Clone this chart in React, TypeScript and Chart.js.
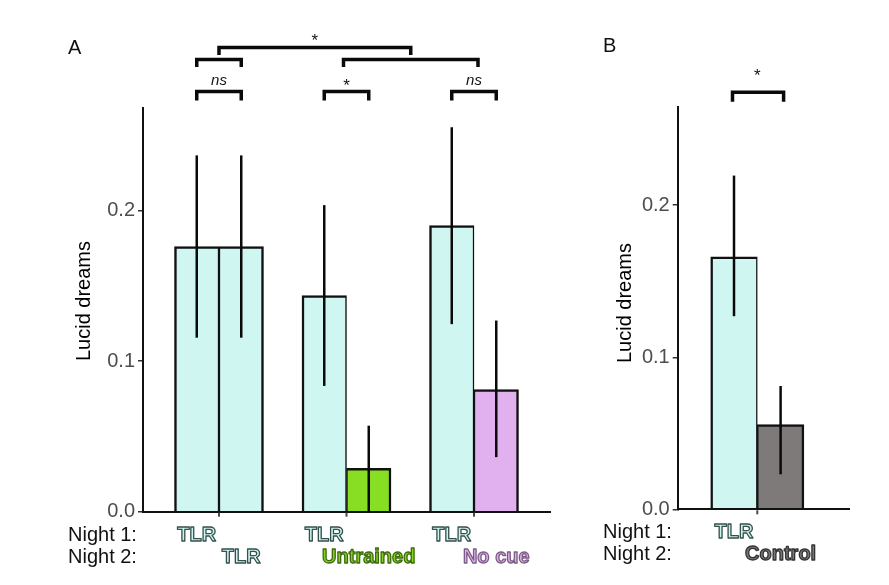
import React, { useEffect, useRef } from "react";
import { Chart, registerables } from "chart.js";

Chart.register(...registerables);

const FONT = '"Liberation Sans", Arial, Helvetica, sans-serif';
Chart.defaults.font.family = FONT;

// ---------- Panel A data ----------
const conditionsA = ["TLR / TLR", "TLR / Untrained", "TLR / No cue"];
const night1LabelsA = ["TLR", "TLR", "TLR"];
const night2LabelsA = ["TLR", "Untrained", "No cue"];
const night1MeanA = [0.176, 0.1435, 0.19];
const night1LowA = [0.1155, 0.0835, 0.1245];
const night1HighA = [0.2365, 0.2035, 0.2552];
const night2MeanA = [0.176, 0.0288, 0.081];
const night2LowA = [0.1155, 0.0, 0.0362];
const night2HighA = [0.2365, 0.0571, 0.1269];
const withinSigA = ["ns", "*", "ns"];
const acrossSigA = "*";

// ---------- Panel B data ----------
const conditionsB = ["TLR / Control"];
const night1LabelsB = ["TLR"];
const night2LabelsB = ["Control"];
const night1MeanB = [0.166];
const night1LowB = [0.127];
const night1HighB = [0.2195];
const night2MeanB = [0.0557];
const night2LowB = [0.023];
const night2HighB = [0.0811];
const withinSigB = ["*"];

const yTickValues = [0, 0.1, 0.2];
const rowLabels = ["Night 1:", "Night 2:"];
const yTitle = "Lucid dreams";

const CYAN = "#d0f6f2";
const night2ColorsA = [CYAN, "#88de22", "#e1b1ef"];
const night2ColorsB = ["#7e7a7a"];
const labelStyles: Record<string, { fill: string; stroke: string }> = {
  TLR: { fill: "#cdf4ef", stroke: "#35504d" },
  Untrained: { fill: "#80d31f", stroke: "#3e6a0c" },
  "No cue": { fill: "#dcaeea", stroke: "#7d5c88" },
  Control: { fill: "#7a7676", stroke: "#333333" },
};

function bracket(ctx: CanvasRenderingContext2D, x1: number, x2: number, y: number, legY: number) {
  ctx.beginPath();
  ctx.moveTo(x1, legY);
  ctx.lineTo(x1, y);
  ctx.lineTo(x2, y);
  ctx.lineTo(x2, legY);
  ctx.stroke();
}

function sigText(ctx: CanvasRenderingContext2D, t: string, x: number, yc: number) {
  ctx.fillStyle = "#111";
  ctx.textAlign = "center";
  ctx.textBaseline = "middle";
  if (t === "*") {
    ctx.font = `17px ${FONT}`;
    ctx.fillText(t, x, yc + 3.8);
  } else {
    ctx.font = `italic 15px ${FONT}`;
    ctx.fillText(t, x, yc - 1.3);
  }
}

function outlined(ctx: CanvasRenderingContext2D, text: string, x: number, y: number) {
  const st = labelStyles[text];
  ctx.font = `bold 20px ${FONT}`;
  ctx.textAlign = "center";
  ctx.textBaseline = "middle";
  ctx.lineJoin = "round";
  ctx.fillStyle = st.fill;
  ctx.fillText(text, x, y);
  ctx.lineWidth = 1.3;
  ctx.strokeStyle = st.stroke;
  ctx.strokeText(text, x, y);
}

type PanelOpts = {
  letter: string;
  letterX: number;
  letterY: number;
  nightX: number;
  titleX: number;
  titleY: number;
  conditions: string[];
  mean1: number[];
  mean2: number[];
  low: number[][];
  high: number[][];
  labels1: string[];
  labels2: string[];
  colors2: string[];
  xMin: number;
  xMax: number;
  yMax: number;
  barThickness: number;
  yAxisWidth: number;
  xAxisHeight: number;
  padTop: number;
  padRight: number;
  drawSig: (chart: any, c1: number[], c2: number[]) => void;
};

function buildConfig(p: PanelOpts): any {
  const toPts = (arr: number[]) => arr.map((v, i) => ({ x: i + 1, y: v }));
  const plugin = {
    id: "annot" + p.letter,
    afterDraw(chart: any) {
      const { ctx, chartArea } = chart;
      const ys = chart.scales.y;
      const xs = chart.scales.x;
      const metas = [0, 1].map((d) => chart.getDatasetMeta(d).data);
      const c1 = metas[0].map((e: any) => e.x);
      const c2 = metas[1].map((e: any) => e.x);
      ctx.save();
      // x tick marks at category centres
      ctx.lineWidth = 2;
      ctx.strokeStyle = "#4a4a4a";
      p.conditions.forEach((_, i) => {
        const x = xs.getPixelForValue(i + 1);
        ctx.beginPath();
        ctx.moveTo(x, chartArea.bottom + 1);
        ctx.lineTo(x, chartArea.bottom + 5);
        ctx.stroke();
      });
      // error bars
      ctx.lineWidth = 2.5;
      ctx.strokeStyle = "#0a0a0a";
      ctx.lineCap = "butt";
      metas.forEach((els: any[], d: number) => {
        els.forEach((el: any, i: number) => {
          ctx.beginPath();
          ctx.moveTo(el.x, ys.getPixelForValue(p.low[d][i]));
          ctx.lineTo(el.x, ys.getPixelForValue(p.high[d][i]));
          ctx.stroke();
        });
      });
      // significance brackets
      ctx.lineWidth = 3.5;
      ctx.lineJoin = "miter";
      p.drawSig(chart, c1, c2);
      // panel letter
      ctx.fillStyle = "#111";
      ctx.font = `20px ${FONT}`;
      ctx.textAlign = "left";
      ctx.textBaseline = "middle";
      ctx.fillText(p.letter, p.letterX, p.letterY);
      // y title
      ctx.save();
      ctx.translate(p.titleX, p.titleY);
      ctx.rotate(-Math.PI / 2);
      ctx.textAlign = "center";
      ctx.textBaseline = "middle";
      ctx.fillStyle = "#000";
      ctx.font = `20px ${FONT}`;
      ctx.fillText(yTitle, 0, 0);
      ctx.restore();
      // row labels
      const bottom = chartArea.bottom;
      const rowY = [bottom + 23.5, bottom + 45.5];
      ctx.font = `20px ${FONT}`;
      ctx.fillStyle = "#111";
      ctx.textAlign = "left";
      ctx.textBaseline = "middle";
      rowLabels.forEach((t, r) => ctx.fillText(t, p.nightX, rowY[r]));
      p.labels1.forEach((t, i) => outlined(ctx, t, c1[i], rowY[0]));
      p.labels2.forEach((t, i) => outlined(ctx, t, c2[i], rowY[1]));
      ctx.restore();
    },
  };
  return {
    type: "bar",
    data: {
      datasets: [
        {
          label: "Night 1",
          data: toPts(p.mean1),
          backgroundColor: CYAN,
          borderColor: "#111",
          borderWidth: { top: 2.5, left: 2.5, right: 1.5, bottom: 0 },
          barThickness: p.barThickness,
        },
        {
          label: "Night 2",
          data: toPts(p.mean2),
          backgroundColor: p.colors2,
          borderColor: "#111",
          borderWidth: { top: 2.5, left: 1.5, right: 2.5, bottom: 0 },
          barThickness: p.barThickness,
        },
      ],
    },
    options: {
      responsive: false,
      animation: false,
      events: [],
      layout: { padding: { top: p.padTop, right: p.padRight, left: 0, bottom: 0 } },
      plugins: { legend: { display: false }, tooltip: { enabled: false } },
      scales: {
        x: {
          type: "linear",
          min: p.xMin,
          max: p.xMax,
          offset: false,
          afterBuildTicks: (s: any) => {
            s.ticks = p.conditions.map((_, i) => ({ value: i + 1 }));
          },
          afterFit: (s: any) => {
            s.height = p.xAxisHeight;
          },
          ticks: { display: false },
          grid: { display: false },
          border: { display: true, color: "#111", width: 2, z: 1 },
        },
        y: {
          type: "linear",
          min: 0,
          max: p.yMax,
          afterBuildTicks: (s: any) => {
            s.ticks = yTickValues.map((v) => ({ value: v }));
          },
          afterFit: (s: any) => {
            s.width = p.yAxisWidth;
          },
          ticks: {
            callback: (v: any) => Number(v).toFixed(1),
            color: "#4d4d4d",
            font: { size: 20, family: FONT },
            padding: 3,
          },
          grid: {
            display: true,
            offset: false,
            drawOnChartArea: false,
            drawTicks: true,
            tickLength: 5,
            color: "#333",
            lineWidth: 1.5,
          },
          border: { display: true, color: "#111", width: 2, z: 1 },
          title: { display: false },
        },
      },
    },
    plugins: [plugin],
  };
}

const panelA: PanelOpts = {
  letter: "A",
  letterX: 68,
  letterY: 48,
  nightX: 68,
  titleX: 84,
  titleY: 301,
  conditions: conditionsA,
  mean1: night1MeanA,
  mean2: night2MeanA,
  low: [night1LowA, night2LowA],
  high: [night1HighA, night2HighA],
  labels1: night1LabelsA,
  labels2: night2LabelsA,
  colors2: night2ColorsA,
  xMin: 0.404,
  xMax: 3.596,
  yMax: 0.2683,
  barThickness: 44.5,
  yAxisWidth: 143,
  xAxisHeight: 73.3,
  padTop: 107.5,
  padRight: 30,
  drawSig: (chart, c1, c2) => {
    const { ctx, chartArea } = chart;
    const top = chartArea.top;
    const xs = chart.scales.x;
    withinSigA.forEach((t, i) => {
      bracket(ctx, c1[i], c2[i], top - 16, top - 7);
      sigText(ctx, t, (c1[i] + c2[i]) / 2, top - 25);
    });
    const L = [c1[0], c2[0]];
    const R = [xs.getPixelForValue(2) - 3, xs.getPixelForValue(3) + 4];
    bracket(ctx, L[0], L[1], top - 48, top - 40.5);
    bracket(ctx, R[0], R[1], top - 48, top - 40.5);
    const lm = (L[0] + L[1]) / 2;
    const rm = (R[0] + R[1]) / 2;
    bracket(ctx, lm, rm, top - 60, top - 52.5);
    sigText(ctx, acrossSigA, (lm + rm) / 2, top - 69.5);
  },
};

const panelB: PanelOpts = {
  letter: "B",
  letterX: 23,
  letterY: 46.7,
  nightX: 23,
  titleX: 45,
  titleY: 303,
  conditions: conditionsB,
  mean1: night1MeanB,
  mean2: night2MeanB,
  low: [night1LowB, night2LowB],
  high: [night1HighB, night2HighB],
  labels1: night1LabelsB,
  labels2: night2LabelsB,
  colors2: night2ColorsB,
  xMin: 0.5353,
  xMax: 1.5353,
  yMax: 0.2644,
  barThickness: 46.6,
  yAxisWidth: 97.7,
  xAxisHeight: 75.7,
  padTop: 107.3,
  padRight: 40,
  drawSig: (chart, c1, c2) => {
    const { ctx, chartArea } = chart;
    const top = chartArea.top;
    withinSigB.forEach((t, i) => {
      bracket(ctx, c1[i] - 1.5, c2[i] + 3, top - 15, top - 5.6);
      sigText(ctx, t, (c1[i] + c2[i]) / 2, top - 34.6);
    });
  },
};

function Panel({ opts, left, width }: { opts: PanelOpts; left: number; width: number }) {
  const ref = useRef<HTMLCanvasElement | null>(null);
  useEffect(() => {
    if (!ref.current) return;
    const chart = new Chart(ref.current, buildConfig(opts));
    return () => chart.destroy();
  }, [opts]);
  return (
    <canvas
      ref={ref}
      width={width}
      height={585}
      style={{ position: "absolute", left, top: 0, width, height: 585 }}
    />
  );
}

export default function App() {
  return (
    <div style={{ position: "fixed", left: 0, top: 0, width: 889, height: 585, background: "#fff" }}>
      <Panel opts={panelA} left={0} width={580} />
      <Panel opts={panelB} left={580} width={309} />
    </div>
  );
}
